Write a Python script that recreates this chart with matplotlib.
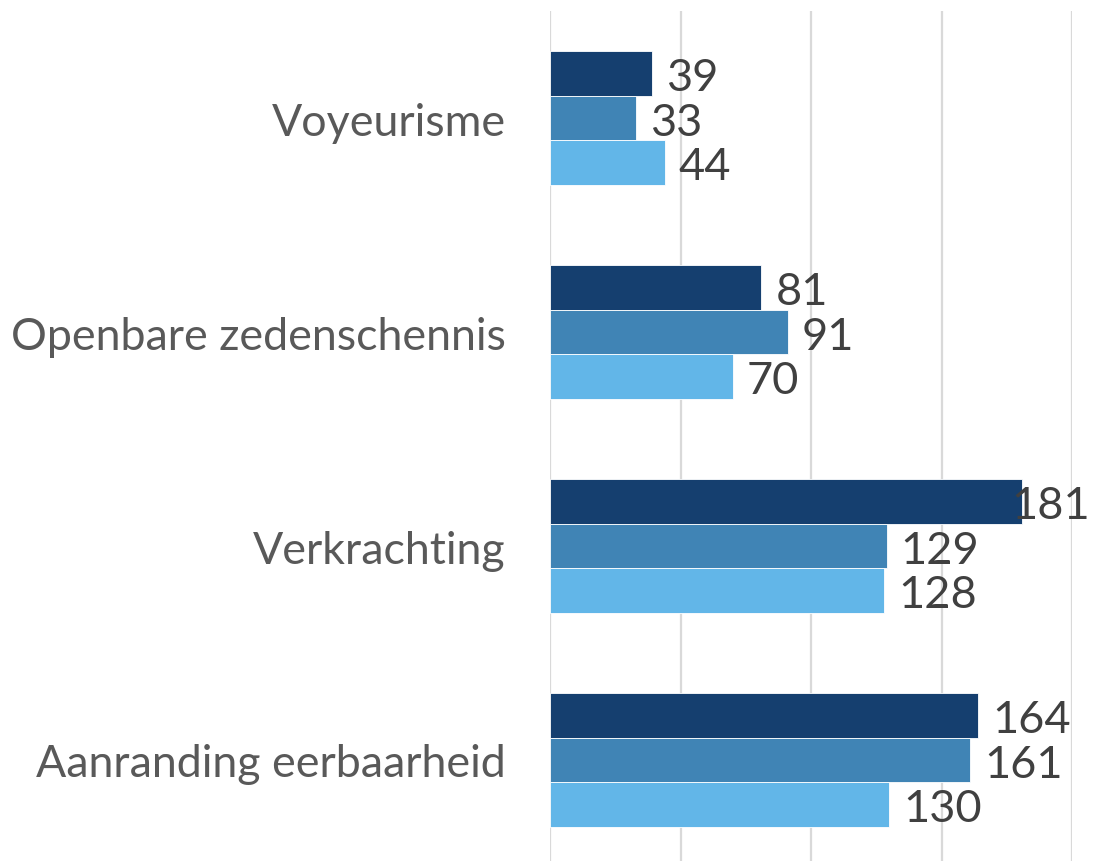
import numpy as np
import matplotlib
matplotlib.use("Agg")
import matplotlib.pyplot as plt

# data
categories = ["Voyeurisme", "Openbare zedenschennis", "Verkrachting", "Aanranding eerbaarheid"]
series_1 = [39, 81, 181, 164]
series_2 = [33, 91, 129, 161]
series_3 = [44, 70, 128, 130]
colors = ["#153F6F", "#4084B5", "#62B6E8"]

plt.rcParams["font.family"] = ["Lato", "DejaVu Sans"]

fig = plt.figure(figsize=(10.94, 8.62), dpi=100)
ax = fig.add_axes([550 / 1094, -6 / 862, (1072 - 550) / 1094, 856 / 862])

y = np.arange(len(categories))
h = 0.625 / 3
texts = []
for i, (vals, c) in enumerate(zip([series_1, series_2, series_3], colors)):
    pos = y + (i - 1) * h
    ax.barh(pos, vals, height=h, color=c, edgecolor="white", linewidth=0.6, zorder=3)
    for p, v in zip(pos, vals):
        t = ax.annotate(str(v), (v, p), xytext=(10, -3), textcoords="offset points",
                        ha="left", va="center", fontsize=32.5, color="#404040", zorder=4)
        texts.append(t)

ax.set_xlim(0, 200)
ax.set_ylim(len(categories) - 0.5, -0.5)
ax.set_xticks([0, 50, 100, 150, 200])
ax.set_xticklabels([])
ax.set_yticks(y)
ax.set_yticklabels(categories, fontsize=32.2, color="#595959")
ax.tick_params(axis="both", length=0)
ax.tick_params(axis="y", pad=32)
ax.grid(axis="x", color="#D9D9D9", linewidth=1.6, zorder=0)
for s in ax.spines.values():
    s.set_visible(False)

# keep labels inside the figure like Excel does
fig.canvas.draw()
r = fig.canvas.get_renderer()
W = fig.get_figwidth() * fig.dpi
for t in texts:
    bb = t.get_window_extent(r)
    if bb.x1 > W - 4:
        shift = (bb.x1 - (W - 4)) * 72 / fig.dpi
        xo, yo = t.xyann
        t.xyann = (xo - shift, yo)

fig.savefig("out.png", dpi=100)
